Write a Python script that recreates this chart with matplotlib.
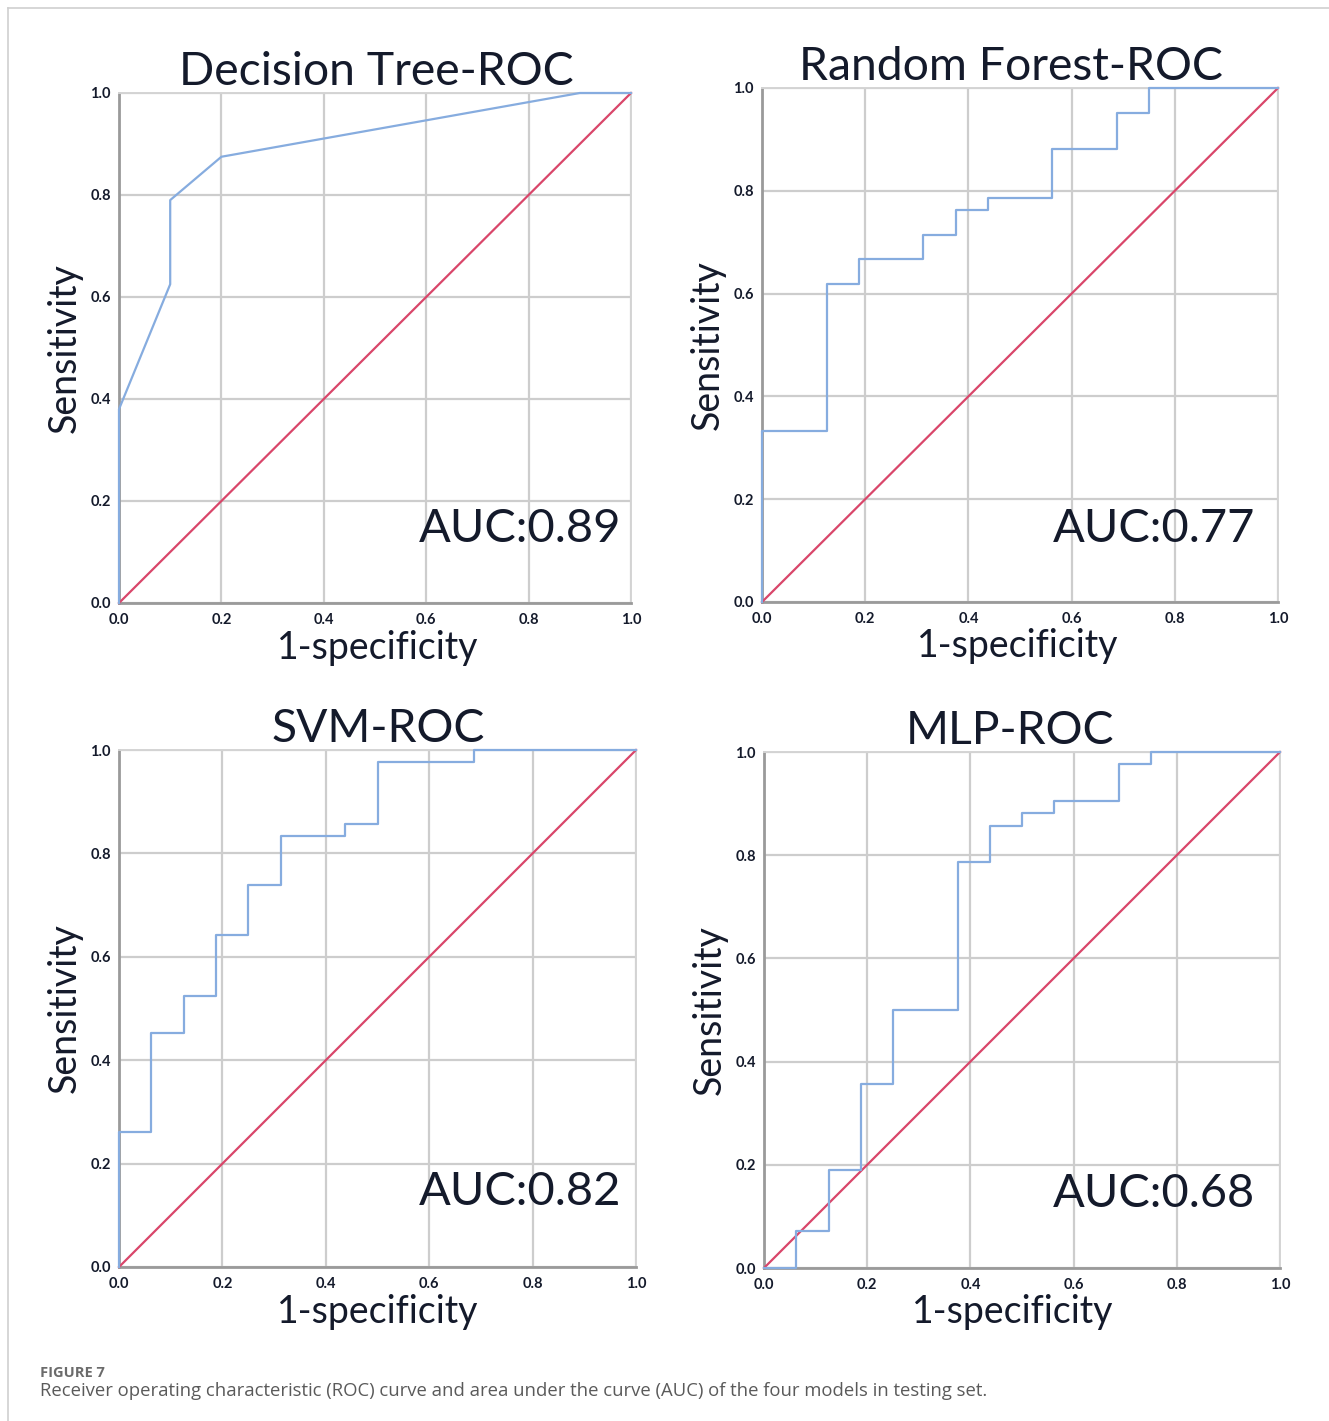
import matplotlib
matplotlib.use("Agg")
import matplotlib.pyplot as plt
from matplotlib.lines import Line2D

W, H = 1329, 1421
DPI = 100

titles = ["Decision Tree-ROC", "Random Forest-ROC", "SVM-ROC", "MLP-ROC"]
auc_labels = ["AUC:0.89", "AUC:0.77", "AUC:0.82", "AUC:0.68"]

dt_fpr = [0.0, 0.0, 0.1, 0.1, 0.2, 0.9, 1.0]
dt_tpr = [0.0, 0.38, 0.625, 0.79, 0.875, 1.0, 1.0]

rf_fpr = [0.0, 0.0, 0.125, 0.125, 0.1875, 0.1875, 0.3125, 0.3125, 0.375, 0.375,
          0.4375, 0.4375, 0.5625, 0.5625, 0.6875, 0.6875, 0.75, 0.75, 1.0]
rf_tpr = [0.0, 0.333, 0.333, 0.619, 0.619, 0.667, 0.667, 0.714, 0.714, 0.762,
          0.762, 0.786, 0.786, 0.881, 0.881, 0.952, 0.952, 1.0, 1.0]

svm_fpr = [0.0, 0.0, 0.0625, 0.0625, 0.125, 0.125, 0.1875, 0.1875, 0.25, 0.25,
           0.3125, 0.3125, 0.4375, 0.4375, 0.5, 0.5, 0.6875, 0.6875, 1.0]
svm_tpr = [0.0, 0.262, 0.262, 0.452, 0.452, 0.524, 0.524, 0.643, 0.643, 0.738,
           0.738, 0.833, 0.833, 0.857, 0.857, 0.976, 0.976, 1.0, 1.0]

mlp_fpr = [0.0, 0.0625, 0.0625, 0.125, 0.125, 0.1875, 0.1875, 0.25, 0.25, 0.375,
           0.375, 0.4375, 0.4375, 0.5, 0.5, 0.5625, 0.5625, 0.6875, 0.6875, 0.75, 0.75, 1.0]
mlp_tpr = [0.0, 0.0, 0.071, 0.071, 0.190, 0.190, 0.357, 0.357, 0.5, 0.5,
           0.786, 0.786, 0.857, 0.857, 0.881, 0.881, 0.905, 0.905, 0.976, 0.976, 1.0, 1.0]

curves = [(dt_fpr, dt_tpr), (rf_fpr, rf_tpr), (svm_fpr, svm_tpr), (mlp_fpr, mlp_tpr)]
ticks = [0.0, 0.2, 0.4, 0.6, 0.8, 1.0]
tick_labels = ["0.0", "0.2", "0.4", "0.6", "0.8", "1.0"]

# pixel boxes: left, right, top, bottom
boxes = [(119, 631, 93, 603), (762, 1278, 88, 602), (119, 636, 750, 1267), (764, 1280, 752, 1268)]
auc_pos = [(0.982, 0.145), (0.955, 0.142), (0.971, 0.145), (0.951, 0.143)]
title_x = [0.503, 0.483, 0.502, 0.477]
xlabel_x = [0.505, 0.495, 0.5, 0.483]

TXT = "#141a2b"
FONT = ["Lato", "DejaVu Sans"]

fig = plt.figure(figsize=(W / DPI, H / DPI), dpi=DPI)
fig.patch.set_facecolor("white")

# outer frame lines
fig.add_artist(Line2D([8 / W, 1.0], [1 - 8 / H, 1 - 8 / H], color="#cfcfcf", lw=1.2))
fig.add_artist(Line2D([8 / W, 8 / W], [1 - 8 / H, 0.0], color="#cfcfcf", lw=1.2))

for i, (l, r, t, b) in enumerate(boxes):
    ax = fig.add_axes([l / W, 1 - b / H, (r - l) / W, (b - t) / H])
    ax.set_xlim(0, 1)
    ax.set_ylim(0, 1)
    ax.set_xticks(ticks)
    ax.set_yticks(ticks)
    ax.set_xticklabels(tick_labels, fontsize=10.5, fontweight="bold", family=FONT, color=TXT)
    ax.set_yticklabels(tick_labels, fontsize=10.5, fontweight="bold", family=FONT, color=TXT)
    ax.tick_params(axis="x", length=0, pad=7)
    ax.tick_params(axis="y", length=0, pad=6)
    ax.grid(True, color="#cdcdcd", lw=1.6)
    ax.set_axisbelow(True)
    for s in ["top", "right"]:
        ax.spines[s].set_color("#d4d4d4")
        ax.spines[s].set_linewidth(1.4)
    for s in ["left", "bottom"]:
        ax.spines[s].set_color("#9a9a9a")
        ax.spines[s].set_linewidth(2.0)
    ax.plot([0, 1], [0, 1], color="#d9466a", lw=1.6, zorder=3, clip_on=False)
    fx, ty = curves[i]
    ax.plot(fx, ty, color="#86acdf", lw=1.6, zorder=4, clip_on=False)
    ax.set_title(titles[i], fontsize=33.3, family=FONT, color=TXT, pad=1, x=title_x[i])
    ax.set_xlabel("1-specificity", fontsize=27, family=FONT, color=TXT, labelpad=2, x=xlabel_x[i])
    ax.set_ylabel("Sensitivity", fontsize=27, family=FONT, color=TXT, labelpad=5)
    ax.text(auc_pos[i][0], auc_pos[i][1], auc_labels[i], transform=ax.transAxes,
            ha="right", va="center", fontsize=33.8, family=FONT, color=TXT)

fig.text(40 / W, 1 - 1373 / H, "FIGURE 7", fontsize=10.5, fontweight="bold",
         family=["Open Sans", "DejaVu Sans"], color="#6b6b6b", va="center", ha="left")
fig.text(40 / W, 1 - 1391 / H,
         "Receiver operating characteristic (ROC) curve and area under the curve (AUC) of the four models in testing set.",
         fontsize=13.3, family=["Open Sans", "DejaVu Sans"], color="#5a5a5a", va="center", ha="left")

fig.savefig("out.png", dpi=DPI, facecolor="white")
